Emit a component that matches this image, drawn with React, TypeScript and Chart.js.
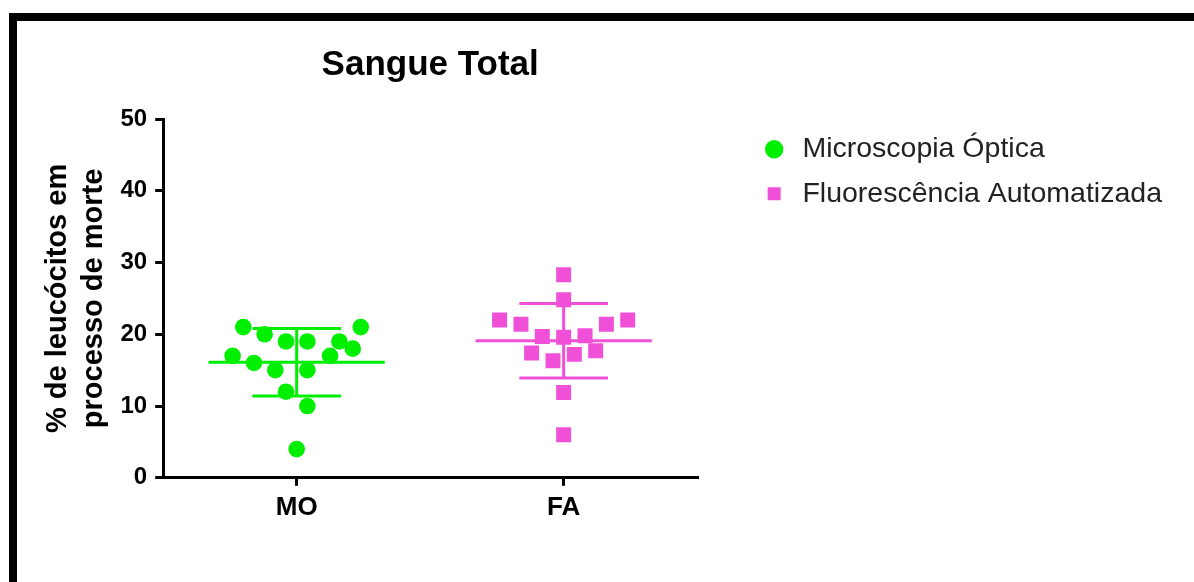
import React, { useEffect, useRef } from 'react';
import { Chart, registerables } from 'chart.js';
Chart.register(...registerables);

const categories = ['MO', 'FA'];
const seriesNames = ['Microscopia Óptica', 'Fluorescência Automatizada'];
const moValues = [21, 20, 19, 19, 19, 18, 21, 17, 17, 16, 15, 15, 12, 10, 4];
const moJitter = [-0.2, -0.12, -0.04, 0.04, 0.16, 0.21, 0.24, -0.24, 0.125, -0.16, -0.08, 0.04, -0.04, 0.04, 0];
const faValues = [28.3, 24.8, 22, 21.4, 21.4, 22, 19.7, 19.6, 19.8, 17.4, 17.7, 17.2, 16.3, 11.9, 6];
const faJitter = [0, 0, -0.24, -0.16, 0.16, 0.24, -0.08, 0, 0.08, -0.12, 0.12, 0.04, -0.04, 0, 0];
const means = [16.1, 19.1];
const sds = [4.7, 5.2];
const yTicks = [0, 10, 20, 30, 40, 50];

const GREEN = '#00ee00';
const PINK = '#f050d8';

// let the right-hand legend be wider than Chart.js' default half-width share
const widenLegend = {
  id: 'widenLegend',
  beforeLayout(chart: any) {
    const lg = chart.legend;
    if (lg && !lg._widened) {
      const orig = lg.update.bind(lg);
      lg.update = (maxW: number, maxH: number, margins: any) => orig(Math.max(maxW, 460), maxH, margins);
      lg._widened = true;
    }
  },
};

export default function App() {
  const ref = useRef<HTMLCanvasElement>(null);
  useEffect(() => {
    const canvas = ref.current;
    if (!canvas) return;
    Chart.defaults.font.family = "'Liberation Sans', Arial, sans-serif";
    const colors = [GREEN, PINK];
    const datasets: any[] = [
      {
        label: seriesNames[0],
        data: moValues.map((v, i) => ({ x: 0.5 + moJitter[i], y: v })),
        pointStyle: 'circle',
        pointRadius: 8.3,
        backgroundColor: GREEN,
        borderColor: GREEN,
        pointBorderWidth: 0,
        showLine: false,
      },
      {
        label: seriesNames[1],
        data: faValues.map((v, i) => ({ x: 1.5 + faJitter[i], y: v })),
        pointStyle: 'rect',
        pointRadius: 10.6,
        backgroundColor: PINK,
        borderColor: PINK,
        pointBorderWidth: 0,
        showLine: false,
      },
    ];
    const MEAN_HALF = 0.33;
    const CAP_HALF = 0.166;
    categories.forEach((_, i) => {
      const cx = i + 0.5;
      const m = means[i];
      const s = sds[i];
      const segs = [
        [{ x: cx - MEAN_HALF, y: m }, { x: cx + MEAN_HALF, y: m }],
        [{ x: cx - CAP_HALF, y: m + s }, { x: cx + CAP_HALF, y: m + s }],
        [{ x: cx - CAP_HALF, y: m - s }, { x: cx + CAP_HALF, y: m - s }],
        [{ x: cx, y: m - s }, { x: cx, y: m + s }],
      ];
      segs.forEach((seg) =>
        datasets.push({
          label: '',
          data: seg,
          showLine: true,
          borderColor: colors[i],
          backgroundColor: colors[i],
          borderWidth: 3,
          pointRadius: 0,
          fill: false,
          borderCapStyle: 'butt',
        })
      );
    });

    const chart = new Chart(canvas, {
      type: 'scatter',
      data: { datasets },
      plugins: [widenLegend],
      options: {
        responsive: false,
        animation: false,
        layout: { padding: { top: 0, left: 38, right: 22, bottom: 53 } },
        plugins: {
          title: {
            display: true,
            fullSize: false,
            text: 'Sangue Total',
            color: '#000',
            font: { size: 35, weight: 'bold' },
            padding: { top: 44, bottom: 33 },
          },
          legend: {
            position: 'right',
            align: 'start',
            fullSize: false,
            labels: {
              usePointStyle: true,
              boxWidth: 28,
              boxHeight: 13,
              padding: 16,
              color: '#222',
              font: { size: 28.5 },
              filter: (item: any) => item.datasetIndex < 2,
            },
          },
          tooltip: { enabled: false },
        },
        scales: {
          x: {
            type: 'linear',
            min: 0,
            max: 2,
            afterBuildTicks: (s: any) => {
              s.ticks = categories.map((_, i) => ({ value: i + 0.5 }));
            },
            ticks: {
              callback: (_v: any, index: number) => categories[index],
              color: '#000',
              font: { size: 26, weight: 'bold' },
              padding: 6,
              autoSkip: false,
              maxRotation: 0,
            },
            grid: { drawOnChartArea: false, drawTicks: true, tickLength: 8, color: '#000', lineWidth: 3 },
            border: { display: true, color: '#000', width: 3 },
          },
          y: {
            min: 0,
            max: 50,
            afterBuildTicks: (s: any) => {
              s.ticks = yTicks.map((v) => ({ value: v }));
            },
            ticks: { color: '#000', font: { size: 24, weight: 'bold' }, padding: 8 },
            grid: { drawOnChartArea: false, tickLength: 8, color: '#000', lineWidth: 3 },
            border: { display: true, color: '#000', width: 3 },
            title: {
              display: true,
              text: ['% de leucócitos em', 'processo de morte'],
              color: '#000',
              font: { size: 29, weight: 'bold', lineHeight: 1.25 },
              padding: { top: 2, bottom: 0 },
            },
          },
          spacer: {
            type: 'linear',
            position: 'right',
            display: true,
            grid: { display: false },
            border: { display: false },
            ticks: { display: false },
            afterFit: (s: any) => {
              s.width = 47;
            },
          },
        },
      } as any,
    });
    return () => chart.destroy();
  }, []);

  return (
    <div style={{ position: 'fixed', left: 0, top: 0, width: 1194, height: 582, overflow: 'hidden', background: '#fff' }}>
      <div
        style={{
          position: 'absolute',
          left: 9,
          top: 13,
          width: 1300,
          height: 700,
          border: '8px solid #000',
          boxSizing: 'border-box',
        }}
      />
      <canvas ref={ref} width={1194} height={582} style={{ position: 'absolute', left: 0, top: 0 }} />
    </div>
  );
}
